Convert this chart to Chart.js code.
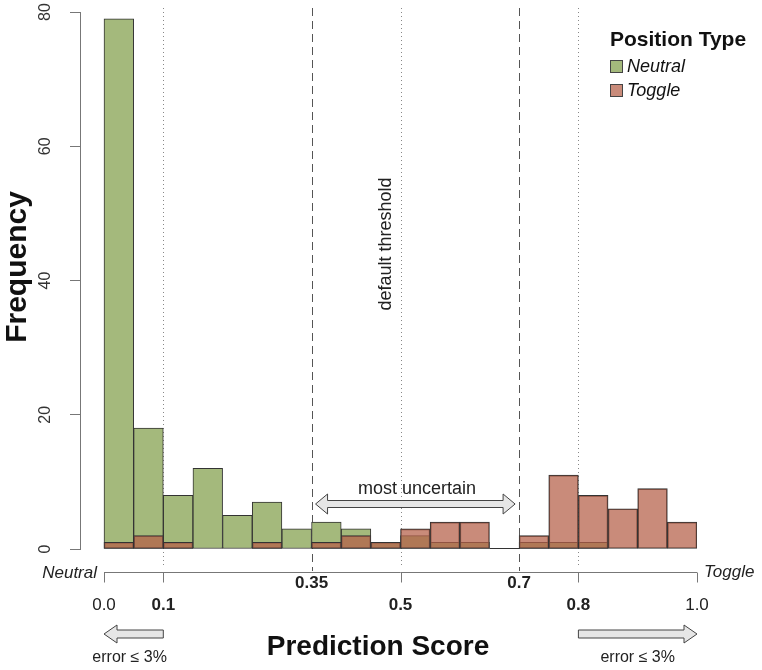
<!DOCTYPE html>
<html>
<head>
<meta charset="utf-8">
<script src="https://cdn.jsdelivr.net/npm/chart.js@4.4.1/dist/chart.umd.min.js"></script>
<style>
html,body{margin:0;padding:0;background:#fff;}
#wrap{width:762px;height:670px;}
</style>
</head>
<body>
<div id="wrap"><canvas id="c" width="762" height="670"></canvas></div>
<script>
// ---- data (bins of width 0.05 on the prediction score) ----
const binMids = [0.025,0.075,0.125,0.175,0.225,0.275,0.325,0.375,0.425,0.475,
                 0.525,0.575,0.625,0.675,0.725,0.775,0.825,0.875,0.925,0.975];
const binWidth = 0.05;
const neutralCounts = [79,18,8,12,5,7,3,4,3,1,2,1,1,0,1,1,1,0,0,0];
const toggleCounts  = [1,2,1,0,0,1,0,1,2,1,3,4,4,0,2,11,8,6,9,4];
const seriesNames = ['Neutral','Toggle'];
const legendTitle = 'Position Type';

const yTicks = [0,20,40,60,80];
const yTickLabels = ['0','20','40','60','80'];
const xTicksUpper = [0.35,0.7];
const xTicksUpperLabels = ['0.35','0.7'];
const xTicksLower = [0.0,0.1,0.5,0.8,1.0];
const xTicksLowerLabels = ['0.0','0.1','0.5','0.8','1.0'];
const xTicksLowerBold = [false,true,true,true,false];
const dashedAt = [0.35,0.7];
const dottedAt = [0.1,0.5,0.8];
const axisEnds = [0,1];
const axisEndLabels = ['Neutral','Toggle'];
const errorArrowRanges = [[0,0.1],[0.8,1.0]];
const uncertainRange = [0.35,0.7];

const FONT = '"Liberation Sans", Arial, Helvetica, sans-serif';
const GREEN = '#a4b97c';
const RED = 'rgba(181,96,73,0.73)';
const EDGE = '#333333';

function arrow(ctx, xa, xb, y, leftHead, rightHead, hl, hh, sh){
  const p = [];
  if (leftHead){ p.push([xa,y],[xa+hl,y-hh],[xa+hl,y-sh]); } else { p.push([xa,y-sh]); }
  if (rightHead){ p.push([xb-hl,y-sh],[xb-hl,y-hh],[xb,y],[xb-hl,y+hh],[xb-hl,y+sh]); }
  else { p.push([xb,y-sh],[xb,y+sh]); }
  if (leftHead){ p.push([xa+hl,y+sh],[xa+hl,y+hh]); } else { p.push([xa,y+sh]); }
  ctx.beginPath();
  p.forEach((q,i)=> i? ctx.lineTo(q[0],q[1]) : ctx.moveTo(q[0],q[1]));
  ctx.closePath();
  ctx.fillStyle = '#e6e6e6';
  ctx.fill();
  ctx.strokeStyle = '#444';
  ctx.lineWidth = 1;
  ctx.stroke();
}

const overlay = {
  id: 'overlay',
  beforeDraw(chart){
    const ctx = chart.ctx;
    ctx.save();
    ctx.fillStyle = '#fff';
    ctx.fillRect(0,0,chart.width,chart.height);
    ctx.restore();
  },
  beforeDatasetsDraw(chart){
    const ctx = chart.ctx, xs = chart.scales.x, ys = chart.scales.y;
    ctx.save();
    ctx.lineWidth = 1;
    ctx.strokeStyle = '#888';
    ctx.setLineDash([1,3]);
    dottedAt.forEach(v=>{
      const px = Math.round(xs.getPixelForValue(v))+0.5;
      ctx.beginPath(); ctx.moveTo(px,8); ctx.lineTo(px,566); ctx.stroke();
    });
    ctx.strokeStyle = '#555';
    ctx.setLineDash([8,5]);
    dashedAt.forEach(v=>{
      const px = Math.round(xs.getPixelForValue(v))+0.5;
      ctx.beginPath(); ctx.moveTo(px,8); ctx.lineTo(px,571); ctx.stroke();
    });
    // empty bins still show their base edge
    ctx.setLineDash([]);
    ctx.strokeStyle = EDGE;
    const by = Math.round(ys.getPixelForValue(0)) - 0.5;
    binMids.forEach((m,i)=>{
      if (neutralCounts[i] === 0 && toggleCounts[i] === 0){
        ctx.beginPath();
        ctx.moveTo(xs.getPixelForValue(m - binWidth/2), by);
        ctx.lineTo(xs.getPixelForValue(m + binWidth/2), by);
        ctx.stroke();
      }
    });
    ctx.restore();
  },
  afterDraw(chart){
    const ctx = chart.ctx, xs = chart.scales.x, ys = chart.scales.y;
    ctx.save();
    // y tick labels (rotated, R style)
    ctx.fillStyle = '#333';
    ctx.font = '16px ' + FONT;
    ctx.textAlign = 'center'; ctx.textBaseline = 'middle';
    yTicks.forEach((v,i)=>{
      ctx.save();
      ctx.translate(46, ys.getPixelForValue(v));
      ctx.rotate(-Math.PI/2);
      ctx.fillText(yTickLabels[i], 0, 0);
      ctx.restore();
    });

    // x axis (R style, offset below the plot)
    const axY = 572.5;
    const x0 = xs.getPixelForValue(axisEnds[0]), x1 = xs.getPixelForValue(axisEnds[1]);
    ctx.strokeStyle = '#777'; ctx.lineWidth = 1; ctx.setLineDash([]);
    ctx.beginPath(); ctx.moveTo(x0,axY); ctx.lineTo(x1,axY); ctx.stroke();
    xTicksLower.forEach(v=>{
      const px = Math.round(xs.getPixelForValue(v))+0.5;
      ctx.beginPath(); ctx.moveTo(px,axY); ctx.lineTo(px,axY+10); ctx.stroke();
    });
    ctx.fillStyle = '#222';
    ctx.textAlign = 'center'; ctx.textBaseline = 'middle';
    ctx.font = 'bold 17px ' + FONT;
    xTicksUpper.forEach((v,i)=> ctx.fillText(xTicksUpperLabels[i], xs.getPixelForValue(v), 583));
    xTicksLower.forEach((v,i)=>{
      ctx.font = (xTicksLowerBold[i] ? 'bold ' : '') + '17px ' + FONT;
      ctx.fillText(xTicksLowerLabels[i], xs.getPixelForValue(v), 605);
    });
    ctx.font = 'italic 17px ' + FONT;
    ctx.textAlign = 'right';
    ctx.fillText(axisEndLabels[0], x0-7, 573);
    ctx.textAlign = 'left';
    ctx.fillText(axisEndLabels[1], x1+7, 572);

    // axis titles
    ctx.fillStyle = '#111';
    ctx.font = 'bold 28px ' + FONT;
    ctx.textAlign = 'center';
    ctx.fillText('Prediction Score', 378, 647);
    ctx.font = 'bold 30px ' + FONT;
    ctx.save();
    ctx.translate(18, 267);
    ctx.rotate(-Math.PI/2);
    ctx.fillText('Frequency', 0, 0);
    ctx.restore();

    // error arrows
    errorArrowRanges.forEach((r,i)=>{
      const a = xs.getPixelForValue(r[0]), b = xs.getPixelForValue(r[1]);
      arrow(ctx, a, b, 634, i===0, i===1, 13, 9, 4);
      ctx.fillStyle = '#222';
      ctx.font = '16px ' + FONT;
      ctx.textAlign = 'center'; ctx.textBaseline = 'middle';
      ctx.fillText('error \u2264 3%', (a+b)/2 - (i===0 ? 4 : 0), 658);
    });

    // most uncertain
    const ua = xs.getPixelForValue(uncertainRange[0]) + 4, ub = xs.getPixelForValue(uncertainRange[1]) - 4;
    arrow(ctx, ua, ub, 504, true, true, 12, 10, 3.5);
    ctx.fillStyle = '#222';
    ctx.font = '18px ' + FONT;
    ctx.textAlign = 'center'; ctx.textBaseline = 'alphabetic';
    ctx.fillText('most uncertain', 417, 494);

    // default threshold
    ctx.save();
    ctx.translate(391, 244);
    ctx.rotate(-Math.PI/2);
    ctx.fillText('default threshold', 0, 0);
    ctx.restore();

    // legend
    ctx.textAlign = 'left'; ctx.textBaseline = 'middle';
    ctx.fillStyle = '#111';
    ctx.font = 'bold 21px ' + FONT;
    ctx.fillText(legendTitle, 610, 40);
    chart.data.datasets.forEach((ds,i)=>{
      const y = 60 + i*24;
      ctx.fillStyle = '#fff'; ctx.fillRect(610.5, y+0.5, 12, 12);
      ctx.fillStyle = ds.backgroundColor; ctx.fillRect(610.5, y+0.5, 12, 12);
      ctx.strokeStyle = '#444'; ctx.lineWidth = 1; ctx.strokeRect(610.5, y+0.5, 12, 12);
      ctx.fillStyle = '#111';
      ctx.font = 'italic 18px ' + FONT;
      ctx.fillText(ds.label, 627, y+7);
    });
    ctx.restore();
  }
};

new Chart(document.getElementById('c'), {
  type: 'bar',
  data: {
    datasets: [
      { label: seriesNames[0], data: binMids.map((x,i)=>({x:x, y:neutralCounts[i]})),
        backgroundColor: GREEN, borderColor: EDGE, borderWidth: 1, borderSkipped: false,
        grouped: false, barPercentage: 1, categoryPercentage: 1, order: 1 },
      { label: seriesNames[1], data: binMids.map((x,i)=>({x:x, y:toggleCounts[i]})),
        backgroundColor: RED, borderColor: EDGE, borderWidth: 1, borderSkipped: false,
        grouped: false, barPercentage: 1, categoryPercentage: 1, order: 0 }
    ]
  },
  options: {
    responsive: false,
    animation: false,
    devicePixelRatio: 1,
    layout: { padding: { left: 0, right: 65, top: 12, bottom: 121 } },
    plugins: { legend: { display: false }, tooltip: { enabled: false } },
    scales: {
      x: { type: 'linear', min: -24/593, max: 1, offset: false, display: false },
      y: {
        type: 'linear', min: 0, max: 80, position: 'left',
        afterBuildTicks: s => { s.ticks = yTicks.map(v => ({ value: v })); },
        afterFit: s => { s.width = 80; },
        grid: { display: true, drawOnChartArea: false, drawTicks: true, tickLength: 10, color: '#777' },
        border: { display: true, color: '#777' },
        ticks: { display: false }
      }
    }
  },
  plugins: [overlay]
});
</script>
</body>
</html>
